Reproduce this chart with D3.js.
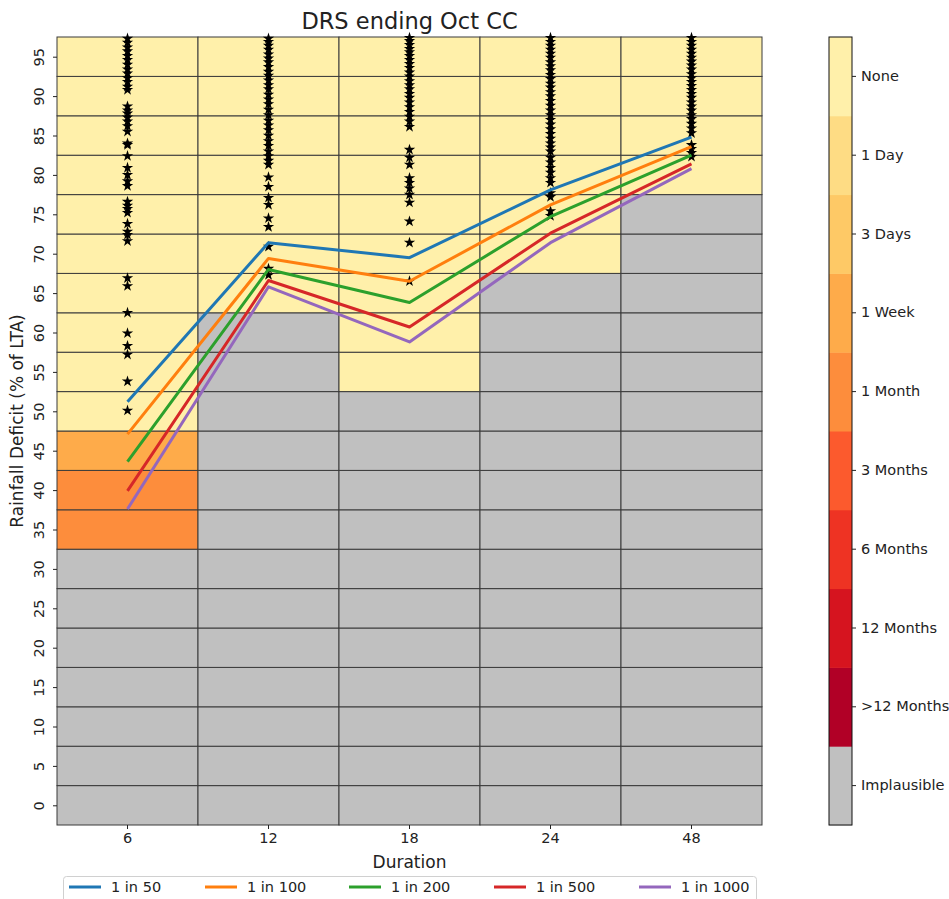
<!DOCTYPE html>
<html>
<head>
<meta charset="utf-8">
<title>DRS ending Oct CC</title>
<style>
  body { margin: 0; background: #fff; }
  text { font-family: "DejaVu Sans", sans-serif; fill: #222; }
</style>
</head>
<body>
<svg id="chart" width="949" height="899"></svg>
<script src="https://cdn.jsdelivr.net/npm/d3@7"></script>
<script>
// durations (x categories) and deficit bins (y, % of LTA)
const durations = ["6", "12", "18", "24", "48"];
const deficitTicks = [0, 5, 10, 15, 20, 25, 30, 35, 40, 45, 50, 55, 60, 65, 70, 75, 80, 85, 90, 95];

// colour categories, bottom to top of the colour bar
const categories = ["Implausible", ">12 Months", "12 Months", "6 Months", "3 Months",
                    "1 Month", "1 Week", "3 Days", "1 Day", "None"];
const categoryColors = ["#c0c0c0", "#b10026", "#d6141f", "#ee3323", "#fc5a2d",
                        "#fd8d3c", "#feab4a", "#fec966", "#fedc84", "#fff0aa"];

// category index of each cell, one array per duration, bins 0..95
const cells6  = [0,0,0,0,0,0,0,5,5,6,9,9,9,9,9,9,9,9,9,9];
const cells12 = [0,0,0,0,0,0,0,0,0,0,0,0,0,9,9,9,9,9,9,9];
const cells18 = [0,0,0,0,0,0,0,0,0,0,0,9,9,9,9,9,9,9,9,9];
const cells24 = [0,0,0,0,0,0,0,0,0,0,0,0,0,0,9,9,9,9,9,9];
const cells48 = [0,0,0,0,0,0,0,0,0,0,0,0,0,0,0,0,9,9,9,9];

// return period lines
const returnPeriods = ["1 in 50", "1 in 100", "1 in 200", "1 in 500", "1 in 1000"];
const rp50   = [51.2, 71.4, 69.5, 78.1, 84.8];
const rp100  = [47.1, 69.4, 66.5, 76.2, 83.6];
const rp200  = [43.6, 68.0, 63.8, 74.7, 82.5];
const rp500  = [39.9, 66.6, 60.7, 72.6, 81.4];
const rp1000 = [37.6, 65.8, 58.8, 71.4, 80.8];
const lineColors = ["#1f77b4", "#ff7f0e", "#2ca02c", "#d62728", "#9467bd"];

// observed deficits (stars) per duration
const obs6 = [97.3, 96.8, 96.2, 95.7, 95.1, 94.6, 94.0, 93.4, 92.9, 92.3, 91.8, 91.2, 90.8,
              88.7, 88.2, 87.8, 87.3, 86.8, 86.2, 85.5, 84.0, 83.8, 82.4, 80.9, 80.0, 79.2, 78.6,
              76.6, 76.1, 75.7, 75.2, 73.8, 72.8, 72.4, 71.6, 66.9, 65.9, 62.5,
              59.9, 58.3, 57.2, 53.8, 50.1];
const obs12 = [97.3, 96.9, 96.4, 95.9, 95.3, 94.8, 94.3, 93.7, 93.1, 92.6, 92.0, 91.4, 90.9,
               90.2, 89.6, 89.0, 88.3, 87.6, 86.9, 86.3, 85.7, 85.0, 84.3, 83.7, 83.0, 82.4,
               81.8, 81.3, 79.7, 78.5, 77.1, 76.2, 74.5, 73.4, 70.9, 68.1, 67.3];
const obs18 = [97.4, 97.0, 96.5, 96.0, 95.6, 95.1, 94.6, 94.1, 93.6, 93.0, 92.5, 91.9, 91.4,
               90.9, 90.3, 89.8, 89.2, 88.6, 88.0, 87.4, 86.8, 86.1, 83.2, 82.2, 81.3, 79.6,
               79.0, 78.3, 77.5, 76.5, 74.1, 71.4, 66.5];
const obs24 = [97.4, 96.9, 96.4, 95.9, 95.4, 94.9, 94.3, 93.8, 93.3, 92.7, 92.2, 91.6, 91.1,
               90.5, 90.0, 89.4, 88.8, 88.2, 87.6, 87.0, 86.4, 85.8, 85.2, 84.6, 84.0, 83.5,
               83.0, 82.2, 81.6, 80.9, 80.3, 79.6, 79.0, 77.7, 77.2, 75.4, 74.8];
const obs48 = [97.4, 96.9, 96.4, 95.9, 95.4, 94.9, 94.4, 93.9, 93.4, 92.8, 92.3, 91.8, 91.3,
               90.8, 90.3, 89.8, 89.2, 88.7, 88.2, 87.6, 87.1, 86.5, 85.9, 85.3,
               83.8, 83.3, 82.8, 82.3];

const cellGrid = [cells6, cells12, cells18, cells24, cells48];
const rpSeries = [rp50, rp100, rp200, rp500, rp1000];
const obsSeries = [obs6, obs12, obs18, obs24, obs48];

const svg = d3.select("#chart");
const plotL = 57, plotR = 762, plotT = 37, plotB = 825;

const x = d3.scaleBand().domain(durations).range([plotL, plotR]);
const y = d3.scaleLinear().domain([-2.5, 97.5]).range([plotB, plotT]);
const xc = d => x(d) + x.bandwidth() / 2;

// heatmap cells
const cellData = [];
cellGrid.forEach((col, i) => col.forEach((c, j) =>
  cellData.push({ dur: durations[i], bin: deficitTicks[j], cat: c })));

svg.append("g").selectAll("rect").data(cellData).enter().append("rect")
  .attr("x", d => x(d.dur))
  .attr("y", d => y(d.bin + 2.5))
  .attr("width", x.bandwidth())
  .attr("height", d => y(d.bin - 2.5) - y(d.bin + 2.5))
  .attr("fill", d => categoryColors[d.cat])
  .attr("stroke", "#3a3a3a").attr("stroke-width", 1);

// stars
const star = d3.symbol().type(d3.symbolStar).size(40)();
obsSeries.forEach((vals, i) => {
  svg.append("g").selectAll("path").data(vals).enter().append("path")
    .attr("d", star)
    .attr("fill", "#000")
    .attr("transform", v => `translate(${xc(durations[i])},${y(v)})`);
});

// return period lines
const line = d3.line().x((v, i) => xc(durations[i])).y(v => y(v));
rpSeries.forEach((vals, k) => {
  svg.append("path").datum(vals)
    .attr("d", line)
    .attr("fill", "none")
    .attr("stroke", lineColors[k])
    .attr("stroke-width", 3)
    .attr("stroke-linejoin", "round");
});

// y axis, labels rotated
const yAxis = svg.append("g").attr("transform", `translate(${plotL},0)`)
  .call(d3.axisLeft(y).tickValues(deficitTicks).tickSize(4));
yAxis.select(".domain").remove();
yAxis.selectAll(".tick line").attr("stroke", "#222");
yAxis.selectAll(".tick text")
  .attr("font-size", 14.5)
  .attr("x", null).attr("dy", null)
  .attr("text-anchor", "middle")
  .attr("transform", "translate(-13,0) rotate(-90)");

// x axis
const xAxis = svg.append("g").attr("transform", `translate(0,${plotB})`)
  .call(d3.axisBottom(x).tickSize(4).tickPadding(4));
xAxis.select(".domain").remove();
xAxis.selectAll("text").attr("font-size", 14.5);
xAxis.selectAll("line").attr("stroke", "#222");

// titles
svg.append("text").attr("x", (plotL + plotR) / 2).attr("y", 29)
  .attr("text-anchor", "middle").attr("font-size", 22.5).text("DRS ending Oct CC");
svg.append("text").attr("x", (plotL + plotR) / 2).attr("y", 868)
  .attr("text-anchor", "middle").attr("font-size", 17).text("Duration");
svg.append("text")
  .attr("transform", `translate(23,${(plotT + plotB) / 2 - 10}) rotate(-90)`)
  .attr("text-anchor", "middle").attr("font-size", 17).text("Rainfall Deficit (% of LTA)");

// colour bar
const cb = d3.scaleBand().domain(categories).range([plotB, plotT]);
const cbX = 829, cbW = 23;
const cbG = svg.append("g");
cbG.selectAll("rect").data(categories).enter().append("rect")
  .attr("x", cbX).attr("y", d => cb(d))
  .attr("width", cbW).attr("height", cb.bandwidth() + 0.5)
  .attr("fill", (d, i) => categoryColors[i]);
cbG.append("rect").attr("x", cbX).attr("y", plotT).attr("width", cbW).attr("height", plotB - plotT)
  .attr("fill", "none").attr("stroke", "#111").attr("stroke-width", 1);
const cbAxis = svg.append("g").attr("transform", `translate(${cbX + cbW},0)`)
  .call(d3.axisRight(cb).tickSize(4).tickPadding(5));
cbAxis.select(".domain").remove();
cbAxis.selectAll("text").attr("font-size", 14.5);
cbAxis.selectAll("line").attr("stroke", "#222");

// legend
const legendX = [69, 205, 349, 494, 639];
const lg = svg.append("g");
lg.append("rect").attr("x", 63.5).attr("y", 876.5).attr("width", 693).attr("height", 40)
  .attr("rx", 3).attr("fill", "#fff").attr("stroke", "#d0d0d0");
returnPeriods.forEach((name, k) => {
  lg.append("line").attr("x1", legendX[k]).attr("x2", legendX[k] + 32)
    .attr("y1", 887).attr("y2", 887)
    .attr("stroke", lineColors[k]).attr("stroke-width", 3);
  lg.append("text").attr("x", legendX[k] + 42).attr("y", 887).attr("dy", "0.35em")
    .attr("font-size", 14.5).text(name);
});
</script>
</body>
</html>
